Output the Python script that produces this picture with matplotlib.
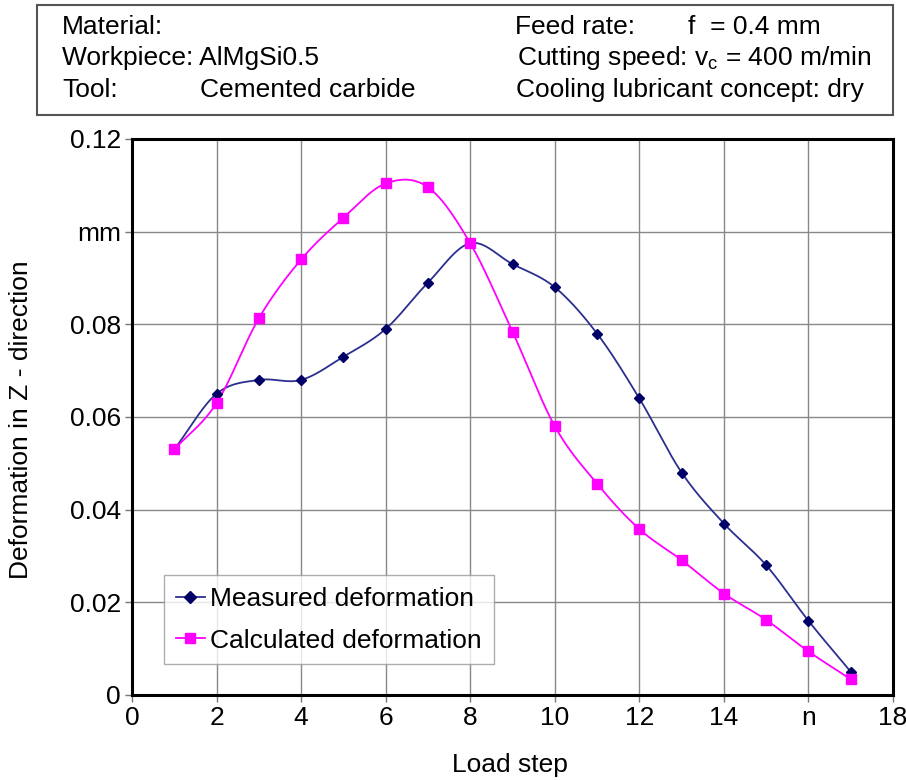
import numpy as np
import matplotlib
matplotlib.use("Agg")
import matplotlib.pyplot as plt
from matplotlib.patches import Rectangle

plt.rcParams['font.family'] = ['Liberation Sans', 'DejaVu Sans']
plt.rcParams['mathtext.fontset'] = 'custom'
plt.rcParams['mathtext.rm'] = 'Liberation Sans'

# Data
load_steps = [1, 2, 3, 4, 5, 6, 7, 8, 9, 10, 11, 12, 13, 14, 15, 16, 17]
measured = [0.053, 0.065, 0.068, 0.068, 0.073, 0.079, 0.089, 0.0975, 0.093,
            0.088, 0.078, 0.064, 0.048, 0.037, 0.028, 0.016, 0.005]
calculated = [0.053, 0.063, 0.0813, 0.094, 0.103, 0.1104, 0.1096, 0.0975, 0.0784,
              0.058, 0.0456, 0.0358, 0.0291, 0.0219, 0.0162, 0.0094, 0.0034]
x_ticks = [0, 2, 4, 6, 8, 10, 12, 14, 16, 18]
x_ticklabels = ['0', '2', '4', '6', '8', '10', '12', '14', 'n', '18']
y_ticks = [0, 0.02, 0.04, 0.06, 0.08, 0.10, 0.12]
y_ticklabels = ['0', '0.02', '0.04', '0.06', '0.08', 'mm', '0.12']


def smooth(xs, ys, n=30):
    """Catmull-Rom spline through the points (smoothed line style)."""
    xs = np.asarray(xs, float)
    ys = np.asarray(ys, float)
    px = np.concatenate([[2 * xs[0] - xs[1]], xs, [2 * xs[-1] - xs[-2]]])
    py = np.concatenate([[2 * ys[0] - ys[1]], ys, [2 * ys[-1] - ys[-2]]])
    outx, outy = [], []
    t = np.linspace(0, 1, n, endpoint=False)
    for i in range(1, len(px) - 2):
        for arr, out in ((px, outx), (py, outy)):
            p0, p1, p2, p3 = arr[i - 1], arr[i], arr[i + 1], arr[i + 2]
            out.extend(0.5 * ((2 * p1) + (-p0 + p2) * t
                              + (2 * p0 - 5 * p1 + 4 * p2 - p3) * t ** 2
                              + (-p0 + 3 * p1 - 3 * p2 + p3) * t ** 3))
    outx.append(xs[-1])
    outy.append(ys[-1])
    return np.array(outx), np.array(outy)


fig = plt.figure(figsize=(9.06, 7.8), dpi=100)
ax = fig.add_axes([0.1457, 0.109, 0.84, 0.7128])

navy_line = '#2b2f8f'
navy_mark = '#000066'
magenta = '#ff00ff'
fs = 19

mx, my = smooth(load_steps, measured)
cx, cy = smooth(load_steps, calculated)
ax.plot(mx, my, color=navy_line, lw=1.3, zorder=3)
ax.plot(cx, cy, color=magenta, lw=1.3, zorder=3)
ax.plot(load_steps, measured, ls='none', marker='D', ms=5.5, color=navy_mark, zorder=4)
ax.plot(load_steps, calculated, ls='none', marker='s', ms=6.5, color=magenta, zorder=4)

# Legend proxies
h1, = ax.plot([], [], color=navy_line, lw=1.3, marker='D', ms=6,
              markerfacecolor=navy_mark, markeredgecolor=navy_mark)
h2, = ax.plot([], [], color=magenta, lw=1.3, marker='s', ms=6.5)
leg = ax.legend([h1, h2], ['Measured deformation', 'Calculated deformation'],
                loc='lower left', bbox_to_anchor=(0.042, 0.055), fontsize=fs,
                frameon=True, fancybox=False, edgecolor='#999999',
                handlelength=1.1, handletextpad=0.2, borderpad=0.45,
                labelspacing=0.65, borderaxespad=0)
leg.get_frame().set_linewidth(1.0)

ax.set_xlim(0, 18)
ax.set_ylim(0, 0.12)
ax.set_xticks(x_ticks)
ax.set_xticklabels(x_ticklabels)
ax.set_yticks(y_ticks)
ax.set_yticklabels(y_ticklabels)
ax.grid(True, color='#888888', lw=1.0)
ax.set_axisbelow(True)
for s in ax.spines.values():
    s.set_linewidth(2.2)
    s.set_color('black')
ax.tick_params(direction='out', length=5, width=1, colors='#777777',
               labelcolor='black', labelsize=fs, pad=3)

ax.set_xlabel('Load step', fontsize=fs)
ax.set_ylabel('Deformation in Z - direction', fontsize=fs)
ax.xaxis.set_label_coords(0.497, -0.105)
ax.yaxis.set_label_coords(-0.13, 0.495)

# Header box with machining conditions
fig.patches.append(Rectangle((37 / 906, 1 - 115 / 780), (893 - 37) / 906, 110 / 780,
                             transform=fig.transFigure, fill=False,
                             edgecolor='#555555', lw=1.5))
rows = [1 - 27 / 780, 1 - 58 / 780, 1 - 90 / 780]
fig.text(62 / 906, rows[0], 'Material:', fontsize=fs, va='center')
fig.text(62 / 906, rows[1], 'Workpiece: AlMgSi0.5', fontsize=fs, va='center')
fig.text(62 / 906, rows[2], 'Tool:', fontsize=fs, va='center')
fig.text(200 / 906, rows[2], 'Cemented carbide', fontsize=fs, va='center')
fig.text(515 / 906, rows[0], 'Feed rate:', fontsize=fs, va='center')
fig.text(688 / 906, rows[0], 'f  = 0.4 mm', fontsize=fs, va='center')
fig.text(517 / 906, rows[1], r'Cutting speed: v$_\mathregular{c}$ = 400 m/min',
         fontsize=fs, va='center')
fig.text(516 / 906, rows[2], 'Cooling lubricant concept: dry', fontsize=fs, va='center')

fig.savefig('out.png', dpi=100)
